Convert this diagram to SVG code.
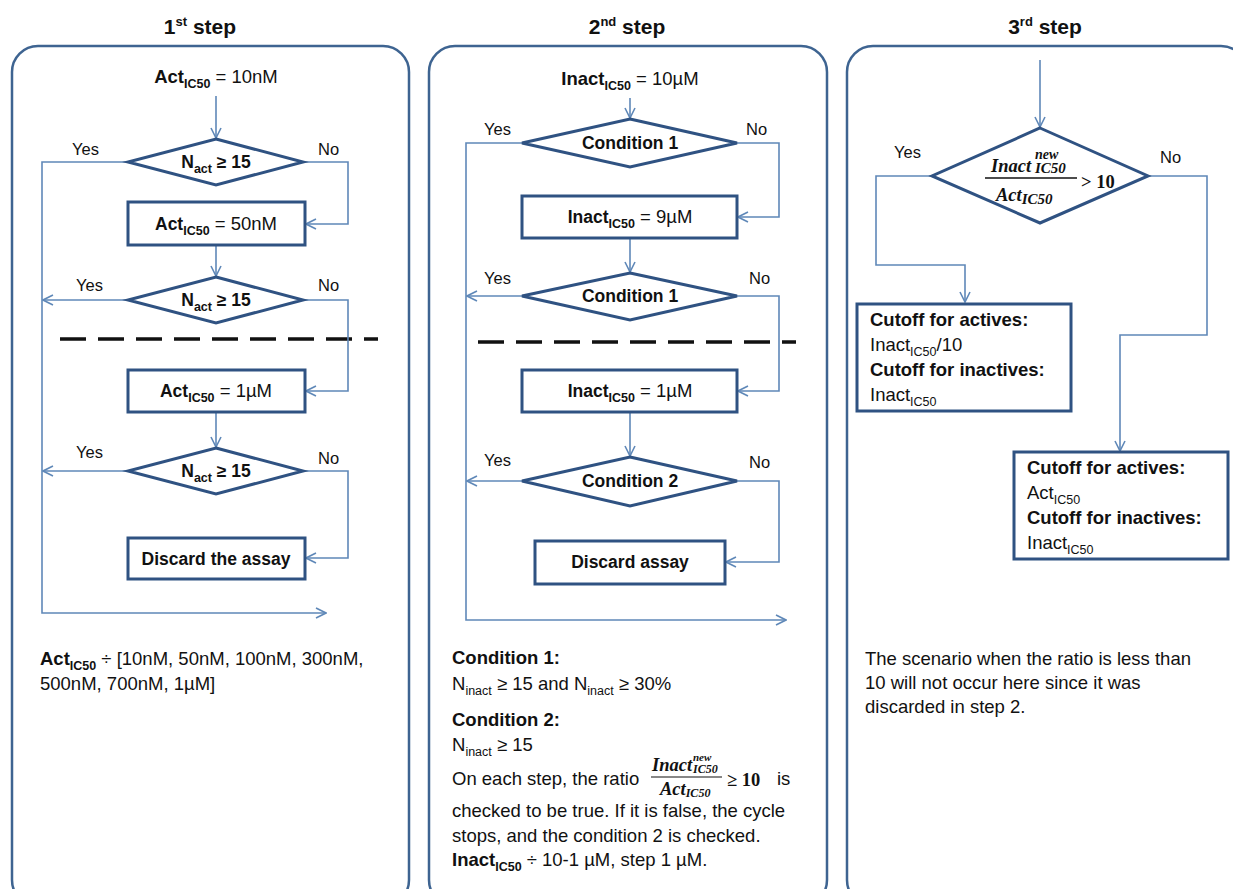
<svg xmlns="http://www.w3.org/2000/svg" width="1233" height="889" viewBox="0 0 1233 889">
<style>
.panel{fill:#fff;stroke:#3E6491;stroke-width:2.5}
.shape{fill:#fff;stroke:#2F5282;stroke-width:3}
.conn{fill:none;stroke:#5F88B8;stroke-width:1.6}
.dash{stroke:#111;stroke-width:3.5;stroke-dasharray:26 12}
text{font-family:"Liberation Sans",Arial,sans-serif;font-size:18.5px;fill:#111}
.title{font-size:21px;font-weight:bold}
.b{font-weight:bold}
.bx{font-weight:bold;font-size:17.5px}
.yn{font-size:16.5px}
.c{text-anchor:middle}
.sub{font-size:12.5px}
.m{font-family:"Liberation Serif","DejaVu Serif",serif;font-weight:bold;font-style:italic}
.mn{font-family:"Liberation Serif","DejaVu Serif",serif;font-weight:bold}
</style>
<defs>
<marker id="arr" viewBox="0 0 12 12" refX="11" refY="6" markerWidth="12" markerHeight="12" markerUnits="userSpaceOnUse" orient="auto">
<path d="M1,1 L11,6 L1,11" fill="none" stroke="#5F88B8" stroke-width="1.6"/>
</marker>
</defs>
<rect width="1233" height="889" fill="#fff"/>

<!-- Titles -->
<text class="title c" x="200" y="34">1<tspan font-size="13" dy="-8">st</tspan><tspan dy="8"> step</tspan></text>
<text class="title c" x="627" y="34">2<tspan font-size="13" dy="-8">nd</tspan><tspan dy="8"> step</tspan></text>
<text class="title c" x="1045" y="34">3<tspan font-size="13" dy="-8">rd</tspan><tspan dy="8"> step</tspan></text>

<!-- Panels -->
<g id="panel1"><rect class="panel" x="12" y="46" width="397" height="860" rx="26"/></g>
<g id="panel2"><rect class="panel" x="429" y="46" width="398" height="860" rx="26"/></g>
<g id="panel3"><rect class="panel" x="847" y="46" width="400" height="860" rx="26"/></g>

<!-- Dashed separators -->
<line class="dash" x1="60" y1="339" x2="378" y2="339"/>
<line class="dash" x1="478" y1="342" x2="796" y2="342"/>

<!-- Connectors -->
<g id="connectors">
<path class="conn" d="M216,96 V138" marker-end="url(#arr)"/>
<path class="conn" d="M128,162 H42 V613 H326" marker-end="url(#arr)"/>
<path class="conn" d="M303,162 H348 V224 H306" marker-end="url(#arr)"/>
<path class="conn" d="M216,246 V276" marker-end="url(#arr)"/>
<path class="conn" d="M128,300 H43" marker-end="url(#arr)"/>
<path class="conn" d="M303,300 H348 V391 H306" marker-end="url(#arr)"/>
<path class="conn" d="M216,412 V447" marker-end="url(#arr)"/>
<path class="conn" d="M128,471 H43" marker-end="url(#arr)"/>
<path class="conn" d="M303,471 H348 V558 H306" marker-end="url(#arr)"/>
<path class="conn" d="M630,98 V118" marker-end="url(#arr)"/>
<path class="conn" d="M522,143 H466 V620 H786" marker-end="url(#arr)"/>
<path class="conn" d="M737,143 H779 V217 H738" marker-end="url(#arr)"/>
<path class="conn" d="M630,238 V272" marker-end="url(#arr)"/>
<path class="conn" d="M522,296 H467" marker-end="url(#arr)"/>
<path class="conn" d="M737,296 H779 V391 H738" marker-end="url(#arr)"/>
<path class="conn" d="M630,412 V456" marker-end="url(#arr)"/>
<path class="conn" d="M522,481 H467" marker-end="url(#arr)"/>
<path class="conn" d="M737,481 H779 V562 H726" marker-end="url(#arr)"/>
<path class="conn" d="M1040,60 V127" marker-end="url(#arr)"/>
<path class="conn" d="M932,176 H876 V265 H965 V302" marker-end="url(#arr)"/>
<path class="conn" d="M1148,176 H1207 V335 H1120 V451" marker-end="url(#arr)"/>
</g>

<!-- Panel 1 nodes -->
<g id="p1-start"><text class="c" x="216" y="83"><tspan class="b">Act</tspan><tspan class="sub b" dy="5">IC50</tspan><tspan dy="-5"> = 10nM</tspan></text></g>
<g id="p1-d1"><polygon class="shape" points="216,139 303,162 216,185 128,162"/>
<text class="c bx" x="216" y="168">N<tspan class="sub" dy="5">act</tspan><tspan dy="-5"> ≥ 15</tspan></text></g>
<g id="p1-b1"><rect class="shape" x="128" y="202" width="177" height="43"/>
<text class="c" x="216" y="230"><tspan class="bx">Act</tspan><tspan class="sub b" dy="5">IC50</tspan><tspan dy="-5"> = 50nM</tspan></text></g>
<g id="p1-d2"><polygon class="shape" points="216,277 303,300 216,323 128,300"/>
<text class="c bx" x="216" y="306">N<tspan class="sub" dy="5">act</tspan><tspan dy="-5"> ≥ 15</tspan></text></g>
<g id="p1-b2"><rect class="shape" x="128" y="370" width="177" height="42"/>
<text class="c" x="216" y="397"><tspan class="bx">Act</tspan><tspan class="sub b" dy="5">IC50</tspan><tspan dy="-5"> = 1µM</tspan></text></g>
<g id="p1-d3"><polygon class="shape" points="216,448 303,471 216,494 128,471"/>
<text class="c bx" x="216" y="477">N<tspan class="sub" dy="5">act</tspan><tspan dy="-5"> ≥ 15</tspan></text></g>
<g id="p1-b3"><rect class="shape" x="128" y="538" width="177" height="41"/>
<text class="c bx" x="216" y="565">Discard the assay</text></g>
<g id="p1-labels">
<text class="yn" x="72" y="155">Yes</text><text class="yn" x="318" y="155">No</text>
<text class="yn" x="76" y="291">Yes</text><text class="yn" x="318" y="291">No</text>
<text class="yn" x="76" y="458">Yes</text><text class="yn" x="318" y="464">No</text>
</g>
<g id="p1-note">
<text x="40" y="665"><tspan class="b">Act</tspan><tspan class="sub b" dy="5">IC50</tspan><tspan dy="-5"> ÷ [10nM, 50nM, 100nM, 300nM,</tspan></text>
<text x="40" y="690">500nM, 700nM, 1µM]</text>
</g>

<!-- Panel 2 nodes -->
<g id="p2-start"><text class="c" x="630" y="85"><tspan class="b">Inact</tspan><tspan class="sub b" dy="5">IC50</tspan><tspan dy="-5"> = 10µM</tspan></text></g>
<g id="p2-d1"><polygon class="shape" points="630,119 737,143 630,167 522,143"/>
<text class="c bx" x="630" y="149">Condition  1</text></g>
<g id="p2-b1"><rect class="shape" x="522" y="196" width="215" height="42"/>
<text class="c" x="630" y="223"><tspan class="bx">Inact</tspan><tspan class="sub b" dy="5">IC50</tspan><tspan dy="-5"> = 9µM</tspan></text></g>
<g id="p2-d2"><polygon class="shape" points="630,273 737,296 630,320 522,296"/>
<text class="c bx" x="630" y="302">Condition  1</text></g>
<g id="p2-b2"><rect class="shape" x="522" y="370" width="215" height="42"/>
<text class="c" x="630" y="397"><tspan class="bx">Inact</tspan><tspan class="sub b" dy="5">IC50</tspan><tspan dy="-5"> = 1µM</tspan></text></g>
<g id="p2-d3"><polygon class="shape" points="630,457 737,481 630,506 522,481"/>
<text class="c bx" x="630" y="487">Condition  2</text></g>
<g id="p2-b3"><rect class="shape" x="535" y="541" width="190" height="43"/>
<text class="c bx" x="630" y="568">Discard assay</text></g>
<g id="p2-labels">
<text class="yn" x="484" y="135">Yes</text><text class="yn" x="746" y="135">No</text>
<text class="yn" x="484" y="284">Yes</text><text class="yn" x="749" y="284">No</text>
<text class="yn" x="484" y="466">Yes</text><text class="yn" x="749" y="468">No</text>
</g>
<g id="p2-note">
<text class="b" x="452" y="664">Condition  1:</text>
<text x="452" y="690">N<tspan class="sub" dy="5">inact</tspan><tspan dy="-5"> ≥ 15 and N</tspan><tspan class="sub" dy="5">inact</tspan><tspan dy="-5"> ≥ 30%</tspan></text>
<text class="b" x="452" y="726">Condition  2:</text>
<text x="452" y="751">N<tspan class="sub" dy="5">inact</tspan><tspan dy="-5"> ≥ 15</tspan></text>
<text x="452" y="785">On each step, the ratio</text>
<text class="m" x="652" y="771" font-size="17">Inact<tspan x="693" y="761" font-size="11">new</tspan><tspan x="693" y="773" font-size="12">IC50</tspan></text>
<line x1="651" y1="777" x2="722" y2="777" stroke="#111" stroke-width="1.2"/>
<text class="m" x="660" y="795" font-size="17">Act<tspan font-size="12" dy="2">IC50</tspan></text>
<text class="mn" x="727" y="786" font-size="18">≥ 10</text>
<text x="777" y="785">is</text>
<text x="452" y="817">checked to be true. If it is false, the cycle</text>
<text x="452" y="842">stops, and the condition 2 is checked.</text>
<text x="452" y="866"><tspan class="b">Inact</tspan><tspan class="sub b" dy="5">IC50</tspan><tspan dy="-5"> ÷ 10-1 µM, step 1 µM.</tspan></text>
</g>

<!-- Panel 3 nodes -->
<g id="p3-d1"><polygon class="shape" points="1040,128 1148,176 1040,223 932,176"/>
<text class="m" x="991" y="172" font-size="24">Inact<tspan x="1035" y="159" font-size="14">new</tspan><tspan x="1035" y="173" font-size="15">IC50</tspan></text>
<line x1="985" y1="178" x2="1077" y2="178" stroke="#111" stroke-width="1.5"/>
<text class="m" x="996" y="201" font-size="24">Act<tspan font-size="15" dy="3">IC50</tspan></text>
<text class="mn" x="1081" y="188" font-size="21">&gt; 10</text>
</g>
<g id="p3-labels"><text class="yn" x="894" y="158">Yes</text><text class="yn" x="1160" y="163">No</text></g>
<g id="p3-b1"><rect class="shape" x="857" y="304" width="214" height="107"/>
<text class="b" x="870" y="326" font-size="18">Cutoff for actives:</text>
<text x="870" y="351">Inact<tspan class="sub" dy="5">IC50</tspan><tspan dy="-5">/10</tspan></text>
<text class="b" x="870" y="376" font-size="18">Cutoff for inactives:</text>
<text x="870" y="401">Inact<tspan class="sub" dy="5">IC50</tspan></text>
</g>
<g id="p3-b2"><rect class="shape" x="1014" y="452" width="214" height="107"/>
<text class="b" x="1027" y="474" font-size="18">Cutoff for actives:</text>
<text x="1027" y="499">Act<tspan class="sub" dy="5">IC50</tspan></text>
<text class="b" x="1027" y="524" font-size="18">Cutoff for inactives:</text>
<text x="1027" y="549">Inact<tspan class="sub" dy="5">IC50</tspan></text>
</g>
<g id="p3-note">
<text x="865" y="665">The scenario when the ratio is less than</text>
<text x="865" y="689">10 will not occur here since it was</text>
<text x="865" y="713">discarded in step 2.</text>
</g>
</svg>
